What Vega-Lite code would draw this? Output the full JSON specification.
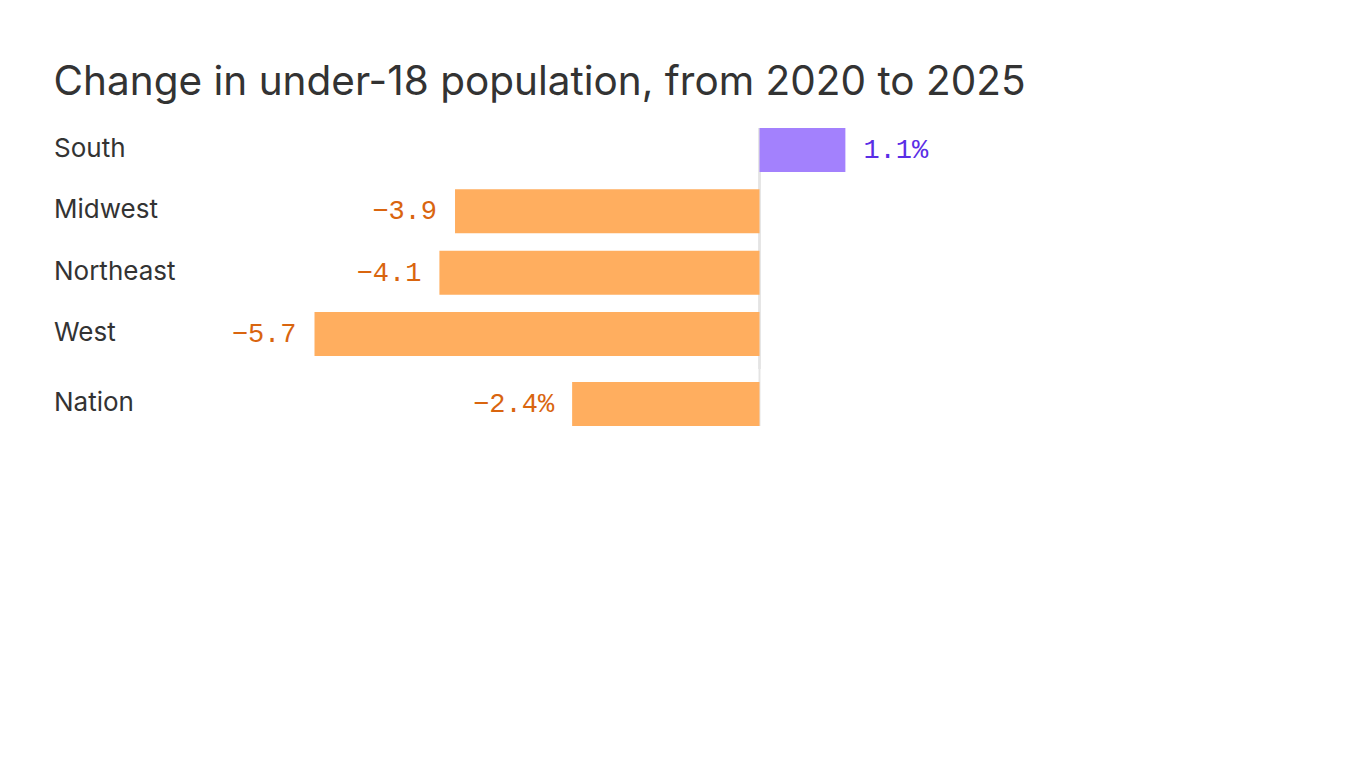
{
  "$schema": "https://vega.github.io/schema/vega-lite/v6.json",
  "background": "white",
  "padding": {"left": 53, "top": 63, "right": 5, "bottom": 5},
  "bounds": "flush",
  "title": {
    "text": "Change in under-18 population, from 2020 to 2025",
    "anchor": "start",
    "frame": "bounds",
    "font": "Inter",
    "fontSize": 40.5,
    "fontWeight": 400,
    "color": "#333333",
    "baseline": "top",
    "offset": 23.5
  },
  "datasets": {
    "regions": [
      {"region": "South", "value": 1.1, "label": "1.1%"},
      {"region": "Midwest", "value": -3.9, "label": "−3.9"},
      {"region": "Northeast", "value": -4.1, "label": "−4.1"},
      {"region": "West", "value": -5.7, "label": "−5.7"}
    ],
    "nation": [
      {"region": "Nation", "value": -2.4, "label": "−2.4%"}
    ]
  },
  "spacing": 0,
  "config": {
    "view": {"stroke": null},
    "axisY": {
      "title": null,
      "domain": false,
      "ticks": false,
      "tickSize": 0,
      "grid": false,
      "labelAlign": "left",
      "labelBaseline": "middle",
      "labelPadding": 159.5,
      "labelFont": "Inter",
      "labelFontSize": 26,
      "labelColor": "#333333",
      "labelOffset": -1
    }
  },
  "vconcat": [
    {
      "width": 1093,
      "height": 241,
      "data": {"name": "regions"},
      "layer": [
        {
          "mark": {"type": "rule", "color": "#e4e4e4", "strokeWidth": 2},
          "encoding": {
            "x": {"datum": 0, "type": "quantitative", "scale": {"domain": [-7, 7], "nice": false}, "axis": null}
          }
        },
        {
          "mark": {"type": "bar"},
          "encoding": {
            "y": {"field": "region", "type": "nominal", "sort": null,
                  "scale": {"paddingInner": 0.2826, "paddingOuter": 0.106, "align": 0, "round": false}},
            "x": {"field": "value", "type": "quantitative", "scale": {"domain": [-7, 7], "nice": false}, "axis": null},
            "color": {"condition": {"test": "datum.value > 0", "value": "#a381fd"}, "value": "#ffae5f"}
          }
        },
        {
          "transform": [{"filter": "datum.value > 0"}],
          "mark": {"type": "text", "align": "left", "baseline": "middle", "dx": 18, "font": "Liberation Mono", "fontSize": 27, "color": "#5a2ee6"},
          "encoding": {
            "y": {"field": "region", "type": "nominal", "sort": null},
            "x": {"field": "value", "type": "quantitative"},
            "text": {"field": "label"}
          }
        },
        {
          "transform": [{"filter": "datum.value < 0"}],
          "mark": {"type": "text", "align": "right", "baseline": "middle", "dx": -18, "font": "Liberation Mono", "fontSize": 27, "color": "#d9650f"},
          "encoding": {
            "y": {"field": "region", "type": "nominal", "sort": null},
            "x": {"field": "value", "type": "quantitative"},
            "text": {"field": "label"}
          }
        }
      ]
    },
    {
      "width": 1093,
      "height": 57,
      "data": {"name": "nation"},
      "layer": [
        {
          "mark": {"type": "rule", "color": "#e4e4e4", "strokeWidth": 2},
          "encoding": {
            "x": {"datum": 0, "type": "quantitative", "scale": {"domain": [-7, 7], "nice": false}, "axis": null}
          }
        },
        {
          "mark": {"type": "bar"},
          "encoding": {
            "y": {"field": "region", "type": "nominal", "sort": null,
                  "scale": {"paddingInner": 0, "paddingOuter": 0.1477, "align": 1, "round": false}},
            "x": {"field": "value", "type": "quantitative", "scale": {"domain": [-7, 7], "nice": false}, "axis": null},
            "color": {"condition": {"test": "datum.value > 0", "value": "#a381fd"}, "value": "#ffae5f"}
          }
        },
        {
          "mark": {"type": "text", "align": "right", "baseline": "middle", "dx": -18, "font": "Liberation Mono", "fontSize": 27, "color": "#d9650f"},
          "encoding": {
            "y": {"field": "region", "type": "nominal", "sort": null},
            "x": {"field": "value", "type": "quantitative"},
            "text": {"field": "label"}
          }
        }
      ]
    }
  ]
}
